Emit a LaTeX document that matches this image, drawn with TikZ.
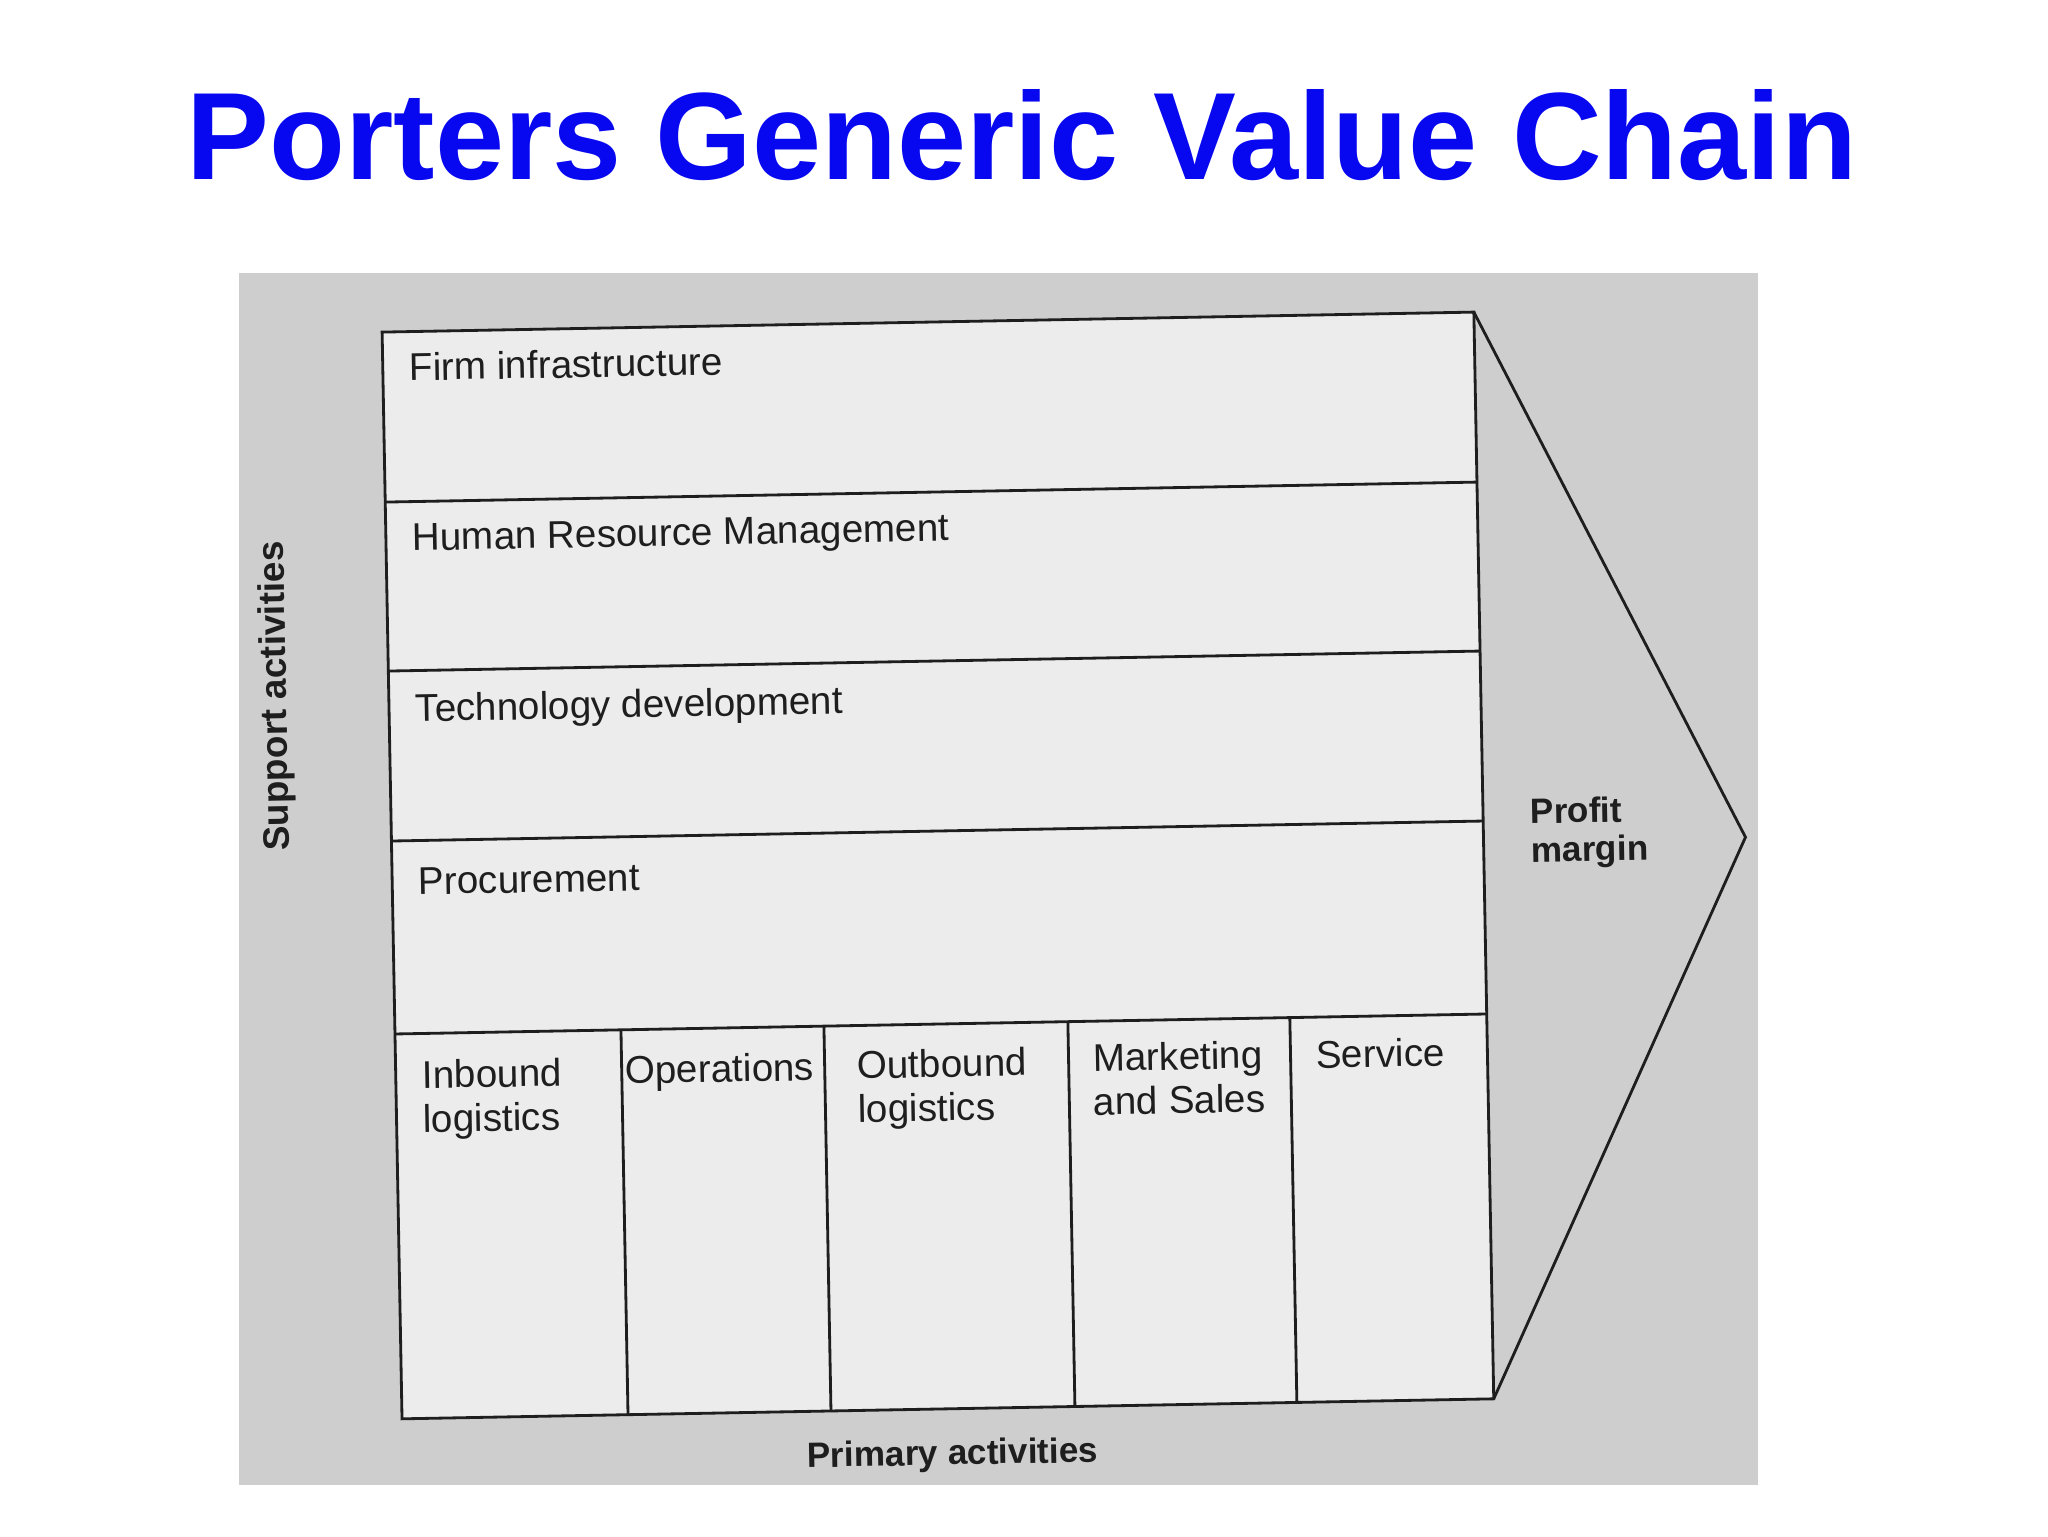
\documentclass[tikz,border=0pt]{standalone}
\usepackage{fontspec}
\setmainfont{Liberation Sans}
\usetikzlibrary{positioning}
\definecolor{titleblue}{RGB}{8,8,240}
\definecolor{photogray}{RGB}{206,206,206}
\definecolor{pagegray}{RGB}{236,236,236}
\definecolor{inkgray}{RGB}{30,30,30}
\tikzset{
  rowlabel/.style={anchor=base west, inner sep=0pt, align=left, text=inkgray,
    font=\fontsize{22}{25}\selectfont},
  sidelabel/.style={inner sep=0pt, text=inkgray, font=\bfseries\fontsize{21}{24}\selectfont},
  chainline/.style={draw=inkgray, line width=1.6pt, line join=miter},
}
\begin{document}
\begin{tikzpicture}[x = 0.02cm, y = -0.02cm]
\useasboundingbox (0,0) rectangle (2048,1536);
\fill[white] (0,0) rectangle (2048,1536);
\node[anchor = base, inner sep = 0pt, text = titleblue, font = \bfseries\fontsize{70.7}{80}\selectfont] (title) at (1022,179) {Porters Generic Value Chain};
\fill[photogray] (239,273) rectangle (1758,1485);
\begin{scope}[rotate around = {1.05:(938,866)}, transform shape]
% corners of the chain
\coordinate (tl) at (392,322);
\coordinate (tr) at (1484,322);
\coordinate (br) at (1484,1409);
\coordinate (bl) at (392,1409);
\coordinate (tip) at (1746,852);
\fill[pagegray] (tl) rectangle (br);
\draw[chainline] (tr) -- (tip) -- (br);
\draw[chainline] (tl) -- (tr) -- (br) -- (bl) -- cycle;
% support activities
\foreach \y in {492,661,831,1024}
  \draw[chainline] (392,\y) -- (1484,\y);
% primary activities
\foreach \x in {618,821,1065,1287}
  \draw[chainline] (\x,1024) -- (\x,1409);
% two-line labels sit on the baseline of their last line
\node[rowlabel] (infra) at (418,371) {Firm infrastructure};
\node[rowlabel] (hrm) at (418,541) {Human Resource Management};
\node[rowlabel] (tech) at (418,712) {Technology development};
\node[rowlabel] (proc) at (418,885) {Procurement};
\node[rowlabel] (inbound) at (418,1123) {Inbound\\logistics};
\node[rowlabel] (ops) at (621,1078) {Operations};
\node[rowlabel] (outbound) at (853,1121) {Outbound\\logistics};
\node[rowlabel] (mkt) at (1089,1118) {Marketing\\and Sales};
\node[rowlabel] (service) at (1312,1075) {Service};
\node[rowlabel, font = \bfseries\fontsize{20}{22}\selectfont] (margin) at (1531,873) {Profit\\margin};
\node[sidelabel, rotate = 90] (support) at (280,684) {Support activities};
\node[sidelabel, anchor = base, font = \bfseries\fontsize{20}{24}\selectfont] (primary) at (942,1465) {Primary activities};
\end{scope}
\end{tikzpicture}
\end{document}
